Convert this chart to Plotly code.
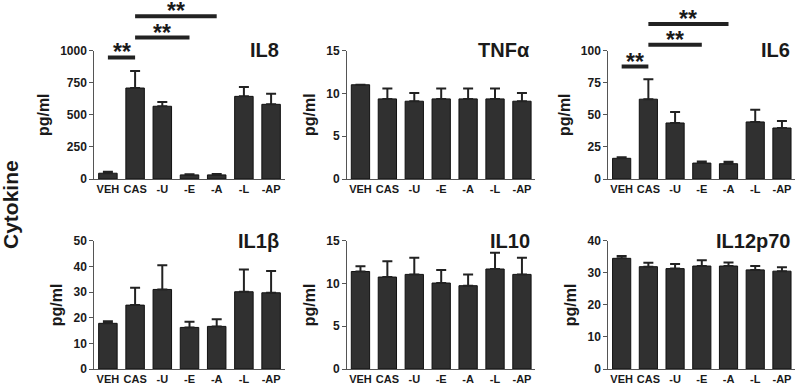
import plotly.graph_objects as go

categories = ["VEH", "CAS", "-U", "-E", "-A", "-L", "-AP"]

panel_titles = ["IL8", "TNFα", "IL6", "IL1β", "IL10", "IL12p70"]

il8_mean = [45, 708, 566, 32, 32, 643, 581]
il8_err = [12, 132, 34, 5, 6, 72, 83]

tnf_mean = [11.0, 9.35, 9.08, 9.35, 9.35, 9.35, 9.08]
tnf_err = [0, 1.21, 0.97, 1.21, 1.21, 1.21, 0.97]

il6_mean = [16.1, 62.1, 43.6, 12.4, 11.9, 44.4, 39.7]
il6_err = [0.8, 15.6, 8.6, 1.2, 1.6, 9.4, 5.5]

il1b_mean = [17.8, 24.9, 31.0, 16.2, 16.6, 30.1, 29.7]
il1b_err = [0.8, 6.8, 9.4, 2.2, 2.8, 8.7, 8.5]

il10_mean = [11.4, 10.75, 11.06, 10.05, 9.74, 11.69, 11.06]
il10_err = [0.6, 1.85, 1.94, 1.52, 1.32, 1.91, 1.94]

il12_mean = [34.5, 31.9, 31.3, 32.1, 32.1, 30.9, 30.5]
il12_err = [0.7, 1.2, 1.4, 1.8, 1.1, 1.2, 1.2]

y_max = [1000, 15, 100, 50, 15, 40]
y_dtick = [250, 5, 25, 10, 5, 10]

# significance brackets: (panel index, start category, end category, level in data units)
sig_panel = [0, 0, 0, 2, 2, 2]
sig_start = [0, 1, 1, 0, 1, 1]
sig_end = [1, 3, 4, 1, 3, 4]
sig_level = [946, 1101, 1266, 87.5, 104.4, 120.6]
sig_label = ["**", "**", "**", "**", "**", "**"]

means = [il8_mean, tnf_mean, il6_mean, il1b_mean, il10_mean, il12_mean]
errs = [il8_err, tnf_err, il6_err, il1b_err, il10_err, il12_err]

W, H = 800, 385
col_px = [(94.3, 284.7), (347.0, 535.4), (608.3, 795.3)]
row_px = [(50.5, 179.0), (240.7, 369.0)]

FONT = "Liberation Sans, Arial, Helvetica, sans-serif"
AXC = "#555555"
BARC = "#303030"
TXT = "#1a1a1a"

fig = go.Figure()
xpos = list(range(len(categories)))

for i in range(6):
    r, c = divmod(i, 3)
    n = i + 1
    xa = "x" if n == 1 else f"x{n}"
    ya = "y" if n == 1 else f"y{n}"
    fig.add_trace(go.Bar(
        x=xpos, y=means[i],
        xaxis=xa, yaxis=ya,
        marker=dict(color=BARC, line=dict(color="#111111", width=1)),
        error_y=dict(type="data", array=errs[i], arrayminus=[0] * len(errs[i]),
                     symmetric=False, color="#222222", thickness=2, width=5),
        showlegend=False,
    ))
    x0, x1 = col_px[c]
    yt, yb = row_px[r]
    xkey = "xaxis" if n == 1 else f"xaxis{n}"
    ykey = "yaxis" if n == 1 else f"yaxis{n}"
    fig.update_layout(**{
        xkey: dict(domain=[x0 / W, x1 / W], anchor=ya, range=[-0.5, 6.5],
                   tickvals=xpos, ticktext=categories, showline=True,
                   linecolor=AXC, linewidth=1, ticks="", showgrid=False,
                   zeroline=False, fixedrange=True, automargin=False,
                   tickfont=dict(family=FONT, size=11, color=TXT, weight="bold")),
        ykey: dict(domain=[1 - yb / H, 1 - yt / H], anchor=xa, range=[0, y_max[i]],
                   dtick=y_dtick[i], tick0=0, showline=True, linecolor=AXC,
                   linewidth=1, ticks="outside", ticklen=4, tickcolor=AXC,
                   showgrid=False, zeroline=False, automargin=False,
                   tickfont=dict(family=FONT, size=12, color=TXT, weight="bold"),
                   title=dict(text="<b>pg/ml</b>", standoff=6,
                              font=dict(family=FONT, size=16, color=TXT))),
    })
    fig.add_annotation(
        text=f"<b>{panel_titles[i]}</b>", xref=f"{xa} domain", yref=f"{ya} domain",
        x=0.98, y=1.0, xanchor="right", yanchor="middle", showarrow=False,
        font=dict(family=FONT, size=20, color=TXT),
    )

for k in range(len(sig_panel)):
    n = sig_panel[k] + 1
    xa = "x" if n == 1 else f"x{n}"
    ya = "y" if n == 1 else f"y{n}"
    yfrac = sig_level[k] / y_max[sig_panel[k]]
    fig.add_shape(type="line", xref=xa, yref=f"{ya} domain",
                  x0=sig_start[k], x1=sig_end[k], y0=yfrac, y1=yfrac,
                  line=dict(color="#222222", width=4))
    fig.add_annotation(text=f"<b>{sig_label[k]}</b>", xref=xa, yref=f"{ya} domain",
                       x=(sig_start[k] + sig_end[k]) / 2, y=yfrac,
                       xanchor="center", yanchor="bottom", yshift=-10,
                       showarrow=False, font=dict(family=FONT, size=23, color=TXT))

fig.add_annotation(text="<b>Cytokine</b>", xref="paper", yref="paper",
                   x=11 / W, y=1 - 205 / H, textangle=-90, showarrow=False,
                   xanchor="center", yanchor="middle",
                   font=dict(family=FONT, size=21, color=TXT))

fig.update_layout(width=W, height=H, margin=dict(l=0, r=0, t=0, b=0),
                  paper_bgcolor="white", plot_bgcolor="white", bargap=0.32)

fig.write_html("out.html", config={"displayModeBar": False},
               post_script="document.body.style.margin='0px';")
